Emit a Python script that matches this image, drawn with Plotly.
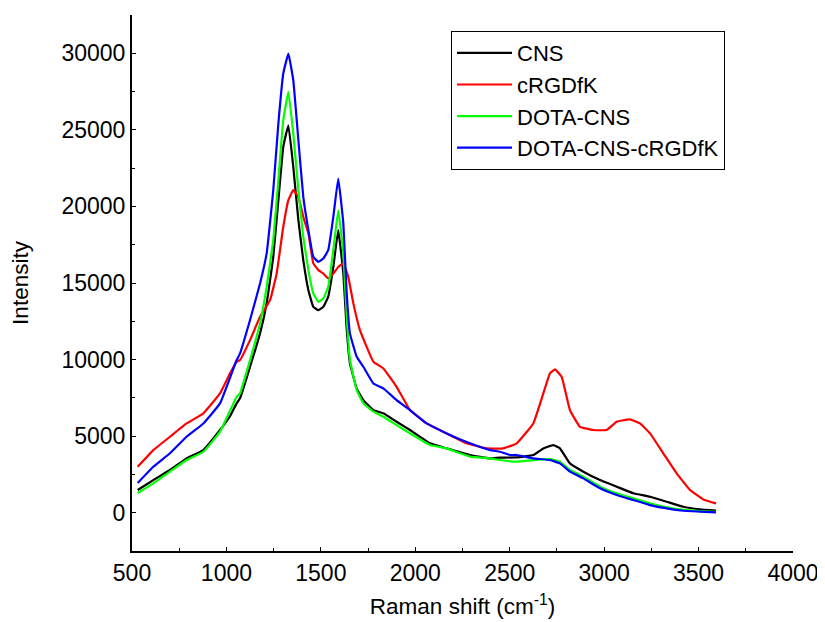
import plotly.graph_objects as go

# ---- data ----
cns_x = [530, 613, 701, 789, 878, 966, 1019, 1054, 1072, 1125, 1178, 1213, 1248, 1275, 1301, 1328, 1354, 1381,
         1407, 1434, 1460, 1487, 1513, 1539, 1566, 1592, 1619, 1636, 1654, 1690, 1725, 1778, 1831, 1901, 1972,
         2078, 2166, 2290, 2396, 2448, 2537, 2625, 2678, 2731, 2766, 2819, 2890, 2978, 3066, 3154, 3243, 3331,
         3419, 3507, 3592]
cns_y = [1480, 2130, 2790, 3550, 4090, 5400, 6300, 7140, 7470, 9530, 11710, 13670, 16710, 20410, 23890, 25300,
         22580, 19100, 16490, 14530, 13440, 13230, 13440, 14100, 16050, 18450, 15620, 12140, 9750, 8100, 7350,
         6700, 6490, 5940, 5400, 4530, 4200, 3770, 3550, 3600, 3610, 3770, 4200, 4420, 4200, 3220, 2680, 2130,
         1700, 1270, 1040, 720, 390, 220, 130]

crgdfk_x = [530, 613, 701, 789, 878, 966, 1019, 1054, 1072, 1125, 1178, 1231, 1266, 1301, 1328, 1354, 1381, 1407,
            1434, 1460, 1487, 1513, 1539, 1566, 1592, 1619, 1645, 1672, 1707, 1778, 1831, 1901, 1972, 2060,
            2166, 2272, 2378, 2466, 2537, 2625, 2678, 2713, 2740, 2775, 2819, 2872, 2943, 3013, 3066, 3137, 3190,
            3243, 3313, 3384, 3455, 3525, 3592]
crgdfk_y = [3000, 4090, 4960, 5830, 6490, 7790, 9100, 9860, 9970, 11270, 12790, 13880, 15620, 18670, 20410, 21060,
            20620, 19320, 18230, 16280, 15840, 15620, 15300, 15620, 16050, 16280, 15400, 13670, 11920, 9860,
            9420, 8220, 6700, 5830, 5180, 4530, 4200, 4200, 4530, 5830, 7790, 9100, 9360, 8880, 6700, 5610, 5400,
            5400, 5940, 6100, 5830, 5180, 3880, 2570, 1480, 870, 610]

dota_x = [530, 613, 701, 789, 878, 966, 1054, 1072, 1125, 1178, 1213, 1248, 1275, 1301, 1328, 1354, 1381, 1407,
          1434, 1460, 1487, 1513, 1539, 1566, 1592, 1619, 1636, 1654, 1690, 1725, 1778, 1831, 1901, 1972, 2078,
          2166, 2290, 2396, 2448, 2537, 2625, 2713, 2766, 2819, 2890, 2978, 3066, 3154, 3243, 3331, 3419, 3507,
          3592]
dota_y = [1290, 1920, 2680, 3440, 3980, 5290, 7570, 7790, 9970, 12360, 14750, 17800, 21710, 25630, 27480, 24760,
          21060, 18010, 15840, 14320, 13770, 13990, 14750, 17140, 19750, 16930, 13010, 9970, 8000, 7140, 6600,
          6270, 5720, 5180, 4420, 4200, 3660, 3550, 3440, 3330, 3440, 3500, 3330, 2790, 2350, 1700, 1270, 940,
          610, 350, 180, 110, 60]

dcr_x = [530, 613, 701, 789, 878, 966, 1054, 1072, 1125, 1178, 1213, 1248, 1275, 1301, 1328, 1354, 1381, 1407,
         1434, 1460, 1487, 1513, 1539, 1566, 1592, 1619, 1636, 1654, 1690, 1725, 1778, 1831, 1901, 1972, 2060,
         2166, 2290, 2396, 2448, 2501, 2537, 2625, 2713, 2766, 2819, 2890, 2978, 3066, 3154, 3243, 3331, 3419,
         3507, 3592]
dcr_y = [1940, 3000, 3880, 4960, 5830, 7140, 9970, 10400, 12580, 14970, 16930, 21060, 25410, 28680, 29980, 28240,
         24320, 20620, 18450, 16710, 16380, 16600, 17140, 19320, 21820, 18890, 14530, 11710, 10180, 9530, 8440,
         8120, 7350, 6700, 5830, 5180, 4530, 4090, 3980, 3770, 3770, 3550, 3440, 3220, 2680, 2240, 1590, 1160,
         830, 500, 280, 130, 70, 20]

series = [
    ("CNS", cns_x, cns_y, "#000000"),
    ("cRGDfK", crgdfk_x, crgdfk_y, "#ff0000"),
    ("DOTA-CNS", dota_x, dota_y, "#00ff00"),
    ("DOTA-CNS-cRGDfK", dcr_x, dcr_y, "#0000ff"),
]

x_ticks = [500, 1000, 1500, 2000, 2500, 3000, 3500, 4000]
y_ticks = [0, 5000, 10000, 15000, 20000, 25000, 30000]

FONT = "Liberation Sans, Arial, sans-serif"

fig = go.Figure()
for name, xs, ys, col in series:
    fig.add_trace(go.Scatter(x=xs, y=ys, mode="lines", name=name,
                             line=dict(color=col, width=2.2, shape="spline", smoothing=0.3)))

# page body has an 8px margin, so the figure is 8px smaller and margins shifted
fig.update_layout(
    width=817, height=614,
    margin=dict(l=124, r=32, t=7, b=71, autoexpand=False),
    paper_bgcolor="white", plot_bgcolor="white",
    font=dict(family=FONT, size=22, color="black"),
    legend=dict(x=0.4826, y=0.970, xanchor="left", yanchor="top",
                bordercolor="black", borderwidth=1, bgcolor="white",
                font=dict(family=FONT, size=22, color="black"),
                itemwidth=55, tracegroupgap=0,
                entrywidth=232, entrywidthmode="pixels"),
    showlegend=True,
)
fig.update_xaxes(
    range=[500, 4000], tickmode="array", tickvals=x_ticks, ticktext=[str(v) for v in x_ticks],
    showline=True, linecolor="black", linewidth=2, mirror=False,
    ticks="inside", ticklen=4, tickwidth=1, tickcolor="black",
    minor=dict(dtick=250, ticks="inside", ticklen=3, tickcolor="black", showgrid=False),
    showgrid=False, zeroline=False, automargin=False,
    tickfont=dict(family=FONT, size=23),
    title=dict(text="Raman shift (cm<sup>-1</sup>)", font=dict(family=FONT, size=22.5), standoff=14),
)
fig.update_yaxes(
    range=[-2500, 32500], tickmode="array", tickvals=y_ticks, ticktext=[str(v) for v in y_ticks],
    showline=True, linecolor="black", linewidth=2, mirror=False,
    ticks="inside", ticklen=4, tickwidth=1, tickcolor="black",
    minor=dict(dtick=2500, ticks="inside", ticklen=3, tickcolor="black", showgrid=False),
    showgrid=False, zeroline=False, automargin=False,
    tickfont=dict(family=FONT, size=23),
    title=dict(text="Intensity", font=dict(family=FONT, size=22.5), standoff=29),
)

fig.write_html("out.html")
